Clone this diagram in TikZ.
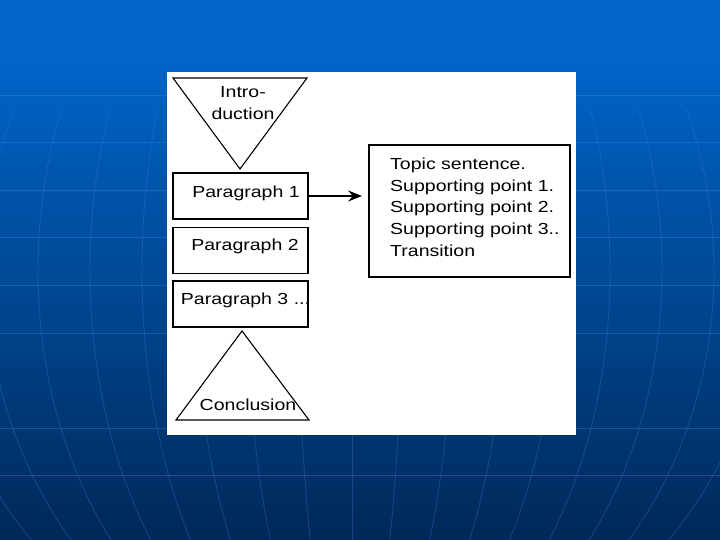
\documentclass[tikz,border=0pt]{standalone}
\usepackage{fontspec}
\setmainfont{Liberation Sans}[FakeStretch=1.22]
\usepackage{tikz}
\usetikzlibrary{arrows.meta, positioning}

\definecolor{slidetop}{RGB}{0, 100, 200}
\definecolor{slidebottom}{RGB}{0, 40, 88}
\definecolor{meshblue}{RGB}{60, 130, 225}

\begin{document}
\begin{tikzpicture}[
                x=1pt, y=-1pt,
                font=\fontsize{16}{21.6}\selectfont,
                para/.style={
                    rectangle,
                    draw=black,
                    line width=1.6pt,
                    minimum width=135pt,
                    minimum height=46pt,
                    inner sep=0pt
                },
                topicbox/.style={
                    rectangle,
                    draw=black,
                    line width=2pt,
                    minimum width=201pt,
                    minimum height=132pt
                },
                tri/.style={draw=black, line width=1.1pt, line join=miter},
                txt/.style={inner sep=0pt, align=center},
                meshline/.style={meshblue, line width=0.9pt, opacity=0.3},
                arrow/.style={-{Stealth[length=14pt, width=11pt, inset=5pt]},
                    line width=1.8pt, shorten >=6pt}
            ]

            % Slide background
            \useasboundingbox (0,0) rectangle (720,540);
            \fill[slidetop] (0,0) rectangle (720,62);
            \fill[top color=slidetop, bottom color=slidebottom] (0,62) rectangle (720,540);
            \begin{scope}
                \clip (0,110) rectangle (720,540);
                \foreach \r in {52,104,...,416}
                    \draw[meshline] (350,270) ellipse [x radius=\r, y radius=420];
                \draw[meshline] (352,-150) -- (352,540);
            \end{scope}
            \foreach \y in {95,142.6,190.2,237.8,285.4,333,428.2,475.8}
                \draw[meshline, opacity=0.4] (0,\y) -- (720,\y);

            % White panel
            \node[fill=white, inner sep=0pt, anchor=north west,
                minimum width=409pt, minimum height=363pt] (panel) at (167,72) {};

            % Introduction
            \draw[tri] (173,78) -- (307,78) -- (240,169) -- cycle;
            \node[txt] (intro) at (243,103) {Intro-\\duction};

            % Body paragraphs
            \node (para1) [para] at (240.5,196) {};
            \node (para2) [para, below=7pt of para1] {};
            \node (para3) [para, below=6pt of para2] {};
            \node[txt, anchor=base] (para1txt) at (246,197) {Paragraph 1};
            \node[txt, anchor=base] (para2txt) at (245,250) {Paragraph 2};
            \node[txt, anchor=base] (para3txt) at (245.5,304) {Paragraph 3 ...};

            % Conclusion
            \draw[tri] (242,331) -- (309,420) -- (176,420) -- cycle;
            \node[txt, anchor=base] (concl) at (248,410) {Conclusion};

            % Paragraph structure
            \node (topic) [topicbox] at (469.5,211) {};
            \node[txt, align=left, anchor=north west] (topictxt) at (390,158)
            {Topic sentence.\\Supporting point 1.\\Supporting point 2.\\Supporting point 3..\\Transition};

            % Arrow
            \draw [arrow] (para1.east) -- (para1.east -| topic.west);

\end{tikzpicture}
\end{document}
